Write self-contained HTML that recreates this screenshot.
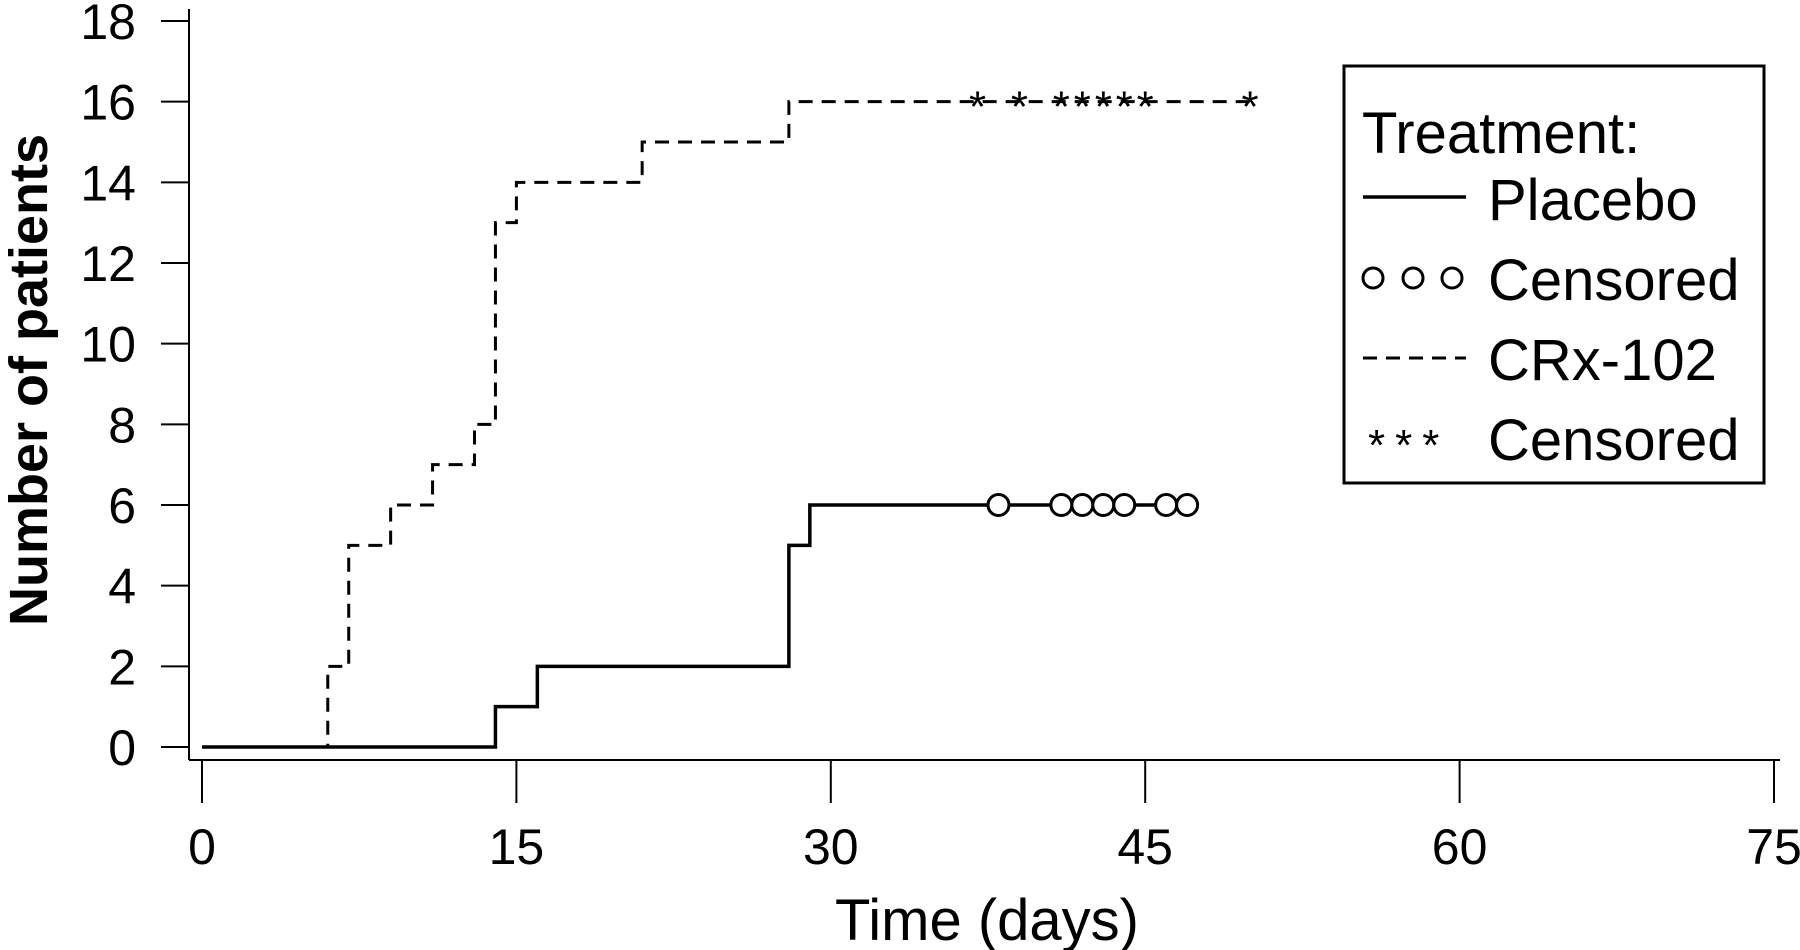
<!DOCTYPE html>
<html><head><meta charset="utf-8"><style>
html,body{margin:0;padding:0;background:#fff;}
svg{display:block;font-family:"Liberation Sans",sans-serif;}
</style></head><body>
<svg id="chart" width="1800" height="950" viewBox="0 0 1800 950">
<g id="axes"></g><g id="plot"></g>
<g>
<rect x="1344" y="66" width="420" height="417" fill="#fff" stroke="#000" stroke-width="3"/>
<text x="1362" y="153" font-size="58">Treatment:</text>
<line x1="1363" y1="197" x2="1466" y2="197" stroke="#000" stroke-width="3.5"/>
<text x="1488" y="220" font-size="58">Placebo</text>
<g fill="none" stroke="#000" stroke-width="3"><circle cx="1373" cy="278" r="10"/><circle cx="1413" cy="278" r="10"/><circle cx="1452" cy="278" r="10"/></g>
<text x="1488" y="300" font-size="58">Censored</text>
<line x1="1363" y1="358" x2="1466" y2="358" stroke="#000" stroke-width="3" stroke-dasharray="14,9"/>
<text x="1488" y="380" font-size="58">CRx-102</text>
<text x="1368" y="460" font-size="44" letter-spacing="10">***</text>
<text x="1488" y="460" font-size="58">Censored</text>
</g>
</svg>
<script>
const xTicks=[0,15,30,45,60,75];
const yTicks=[0,2,4,6,8,10,12,14,16,18];
const placeboTimes=[0,14,16,28,29,47];
const placeboCounts=[0,1,2,5,6,6];
const placeboCensored=[38,41,42,43,44,46,47];
const crxTimes=[0,6,7,9,11,13,14,15,21,28,50];
const crxCounts=[0,2,5,6,7,8,13,14,15,16,16];
const crxCensored=[37,39,41,42,43,44,45,50];
const NS='http://www.w3.org/2000/svg';
const X=t=>202+t*(1774-202)/75;
const Y=v=>747-v*(747-21)/18;
function mk(tag,attrs,parent){const e=document.createElementNS(NS,tag);for(const k in attrs)e.setAttribute(k,attrs[k]);parent.appendChild(e);return e;}
const axes=document.getElementById('axes'),plot=document.getElementById('plot');
let e=mk('line',{x1:189,y1:9,x2:189,y2:760,stroke:'#000','stroke-width':2},axes);


e=mk('line',{x1:189,y1:760,x2:1780,y2:760,stroke:'#000','stroke-width':2},axes);


yTicks.forEach(v=>{
 let t=mk('line',{x1:161,y1:Y(v),x2:189,y2:Y(v),stroke:'#000','stroke-width':2},axes);
 
 
 let l=mk('text',{x:136,y:Y(v)+18,'font-size':50,'text-anchor':'end'},axes);l.textContent=v;
 
 
});
xTicks.forEach(v=>{
 let t=mk('line',{x1:X(v),y1:760,x2:X(v),y2:803,stroke:'#000','stroke-width':2},axes);
 
 
 let l=mk('text',{x:X(v),y:864,'font-size':50,'text-anchor':'middle'},axes);l.textContent=v;
 
 
});
let xt=mk('text',{x:987,y:940,'font-size':58,'text-anchor':'middle'},axes);xt.textContent='Time (days)';


let yt=mk('text',{x:0,y:0,'font-size':54,'font-weight':'bold','text-anchor':'middle',transform:'translate(47,380) rotate(-90)'},axes);yt.textContent='Number of patients';


function stepPath(ts,cs){let d='M'+X(ts[0])+','+Y(cs[0]);for(let i=1;i<ts.length;i++){d+=' H'+X(ts[i])+' V'+Y(cs[i]);}return d;}
let p=mk('path',{d:stepPath(placeboTimes,placeboCounts),fill:'none',stroke:'#000','stroke-width':3.5},plot);


let c=mk('path',{d:stepPath(crxTimes,crxCounts),fill:'none',stroke:'#000','stroke-width':3,'stroke-dasharray':'14,9'},plot);


function countAt(ts,cs,t){let v=cs[0];for(let i=0;i<ts.length;i++)if(ts[i]<=t)v=cs[i];return v;}
placeboCensored.forEach(t=>{
 let m=mk('circle',{cx:X(t),cy:Y(countAt(placeboTimes,placeboCounts,t)),r:10.5,fill:'#fff',stroke:'#000','stroke-width':3},plot);
 
 
});
crxCensored.forEach(t=>{
 let m=mk('text',{x:X(t),y:Y(countAt(crxTimes,crxCounts,t))+20,'font-size':44,'text-anchor':'middle'},plot);m.textContent='*';
 
 
});
</script>
</body></html>
